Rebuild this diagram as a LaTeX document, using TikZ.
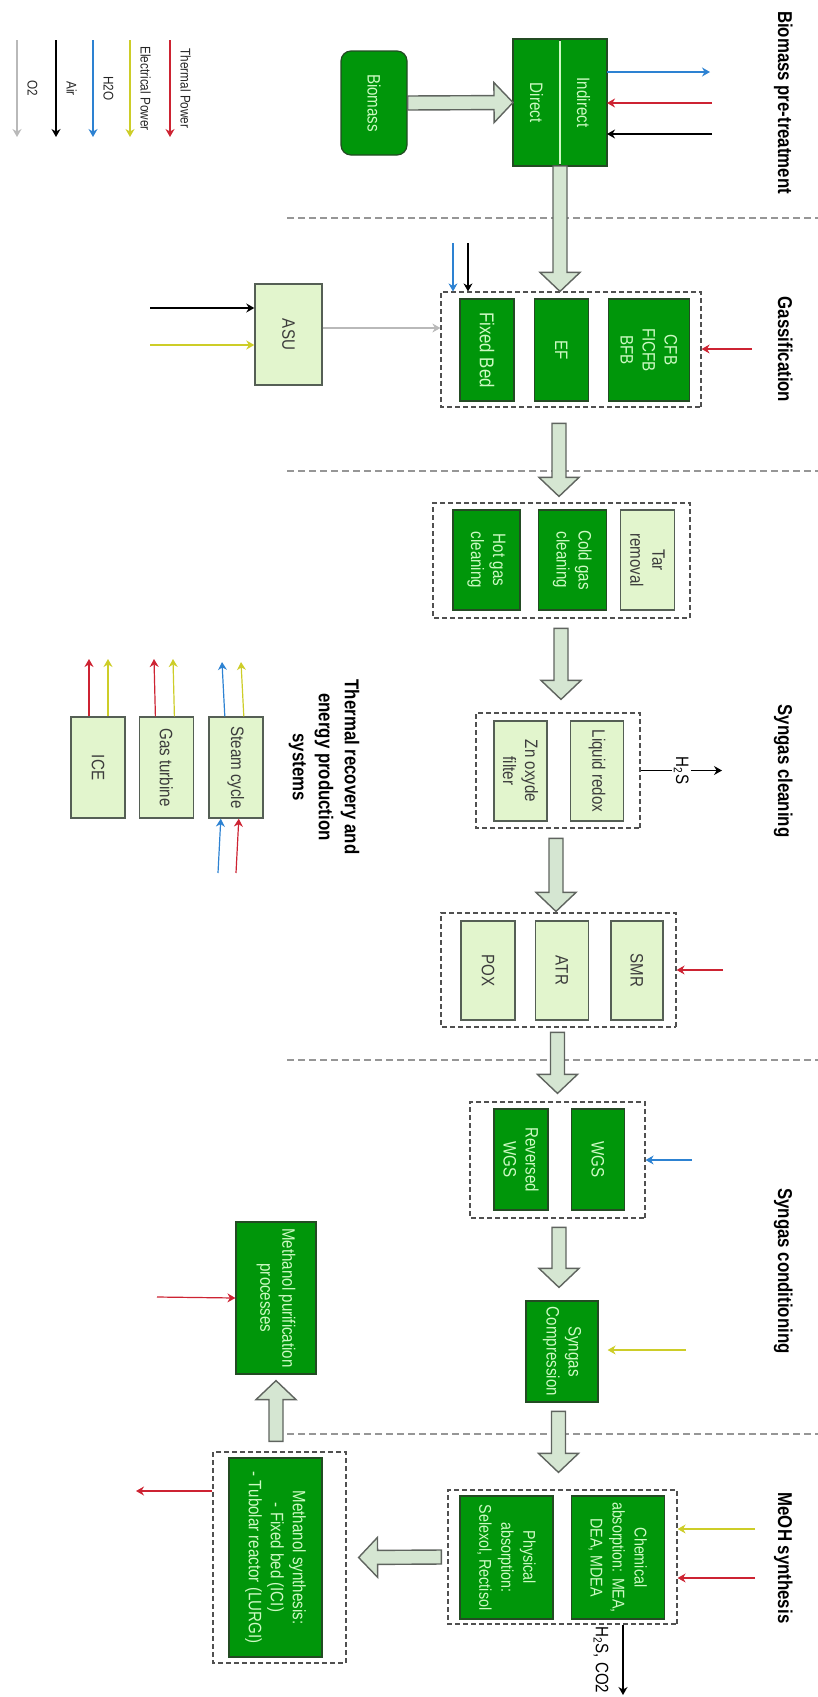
\documentclass[tikz,border=0pt]{standalone}
\usepackage{fontspec}
\setmainfont{Liberation Sans}[FakeStretch=0.84]
\usetikzlibrary{positioning,arrows.meta,calc}
\definecolor{procgreen}{RGB}{0,150,10}
\definecolor{procedge}{RGB}{35,75,35}
\definecolor{proctext}{RGB}{205,250,195}
\definecolor{auxgreen}{RGB}{226,245,205}
\definecolor{auxedge}{RGB}{85,95,85}
\definecolor{auxtext}{RGB}{60,60,60}
\definecolor{fatfill}{RGB}{213,230,210}
\definecolor{fatedge}{RGB}{95,100,95}
\definecolor{grpedge}{RGB}{80,80,80}
\definecolor{sepgray}{RGB}{150,150,150}
\definecolor{thermred}{RGB}{205,35,50}
\definecolor{elecyellow}{RGB}{205,205,40}
\definecolor{waterblue}{RGB}{45,130,210}
\definecolor{oxygray}{RGB}{185,185,185}
\newcommand{\fatarrow}[2]{%
  \draw[fatshape] ($(#1)!3.5pt!90:(#2)$)
    -- ($($(#2)!9.5pt!(#1)$)!3.5pt!90:(#2)$)
    -- ($($(#2)!9.5pt!(#1)$)!10pt!90:(#2)$)
    -- (#2)
    -- ($($(#2)!9.5pt!(#1)$)!10pt!-90:(#2)$)
    -- ($($(#2)!9.5pt!(#1)$)!3.5pt!-90:(#2)$)
    -- ($(#1)!3.5pt!-90:(#2)$) -- cycle;}

\begin{document}
\begin{tikzpicture}[
  x=0.5pt, y=0.5pt, rotate=-90, transform shape,
  node distance=9.5pt,
  every node/.style={font=\fontsize{9}{11}\selectfont, align=center, inner sep=2pt},
  proc/.style={draw=procedge, fill=procgreen, text=proctext, line width=0.6pt},
  aux/.style={draw=auxedge, fill=auxgreen, text=auxtext, line width=0.7pt},
  grp/.style={draw=grpedge, dash pattern=on 2.5pt off 1.5pt, line width=0.6pt},
  header/.style={font=\fontsize{10}{13}\selectfont\bfseries, anchor=base},
  legendtxt/.style={font=\fontsize{7}{8.5}\selectfont, inner sep=1pt, text=black!85},
  sepline/.style={draw=sepgray, dash pattern=on 3.5pt off 2pt, line width=0.6pt},
  divider/.style={draw=proctext, line width=1pt},
  fatshape/.style={draw=fatedge, fill=fatfill, line width=0.7pt, line join=miter},
  flow/.style={-{Stealth[length=4pt,width=4.5pt]}, line width=0.6pt},
  redflow/.style={flow, color=thermred},
  yellowflow/.style={flow, color=elecyellow},
  blueflow/.style={flow, color=waterblue},
  blackflow/.style={flow, color=black},
  grayflow/.style={flow, color=oxygray}
]
\useasboundingbox (0,0) rectangle (1697,818);

\draw[sepline] (218,287) -- (218,818);
\draw[sepline] (471,287) -- (471,818);
\draw[sepline] (1060,287) -- (1060,818);
\draw[sepline] (1434,287) -- (1434,818);

\node[header] (hpre) at (102.5,778) {Biomass pre-treatment};
\node[header] (hgas) at (349.5,778) {Gassification};
\node[header] (hcln) at (771,778) {Syngas cleaning};
\node[header] (hcond) at (1271,778) {Syngas conditioning};
\node[header] (hmeoh) at (1558,778) {MeOH synthesis};
\node[font=\fontsize{10}{13}\selectfont\bfseries] (hthermal) at (767,324) {Thermal recovery and\\energy production\\systems};

\coordinate (lgo2a) at (40,17); \coordinate (lgo2b) at (137,17);
\coordinate (lgaira) at (40,56); \coordinate (lgairb) at (137,56);
\coordinate (lgh2oa) at (40,93); \coordinate (lgh2ob) at (137,93);
\coordinate (lgeleca) at (40,130); \coordinate (lgelecb) at (137,130);
\coordinate (lgheata) at (40,170); \coordinate (lgheatb) at (137,170);
\draw[grayflow] (lgo2a) -- node[above=4pt, legendtxt] {O2} (lgo2b);
\draw[blackflow] (lgaira) -- node[above=4pt, legendtxt] {Air} (lgairb);
\draw[blueflow] (lgh2oa) -- node[above=4pt, legendtxt] {H2O} (lgh2ob);
\draw[yellowflow] (lgeleca) -- node[above=4pt, legendtxt] {Electrical Power} (lgelecb);
\draw[redflow] (lgheata) -- node[above=4pt, legendtxt] {Thermal Power} (lgheatb);

\node[proc, rounded corners=5pt, minimum width=52pt, minimum height=33pt] (biomass) at (103,374) {Biomass};
\node[proc, outer sep=0pt, minimum width=63.5pt, minimum height=23.5pt] (indirect) at (102.5,583.5) {Indirect};
\node[proc, outer sep=0pt, minimum width=63.5pt, minimum height=23.5pt, below=0pt of indirect] (direct) {Direct};
\draw[divider] ($(indirect.south west)+(2,0)$) -- ($(indirect.south east)+(-2,0)$);
\coordinate (ptout) at (72,710);
\coordinate (ptheat) at (103,712);
\coordinate (ptair) at (134,712);
\draw[blueflow] ($(indirect.north)+(-30.5,0)$) -- (ptout);
\draw[redflow] (ptheat) -- ($(indirect.north)+(0.5,0)$);
\draw[blackflow] (ptair) -- ($(indirect.north)+(31.5,0)$);

\node[grp, minimum width=57.5pt, minimum height=130pt] (gasgrp) at (349.5,571) {};
\node[proc, minimum width=51pt, minimum height=27pt, font=\fontsize{10}{12}\selectfont] (fixedbed) at (350,487) {Fixed Bed};
\node[proc, minimum width=51pt, minimum height=27pt, above=of fixedbed] (ef) {EF};
\node[proc, minimum width=51pt, minimum height=40.5pt, above=of ef] (cfb) {CFB\\FICFB\\BFB};
\node[aux, minimum width=50.5pt, minimum height=33.5pt] (asu) at (334.5,288.5) {ASU};
\coordinate (asuair) at (308,150);
\coordinate (asuelec) at (345,150);
\draw[blackflow] (asuair) -- ($(asu.south)+(-26.5,0)$);
\draw[yellowflow] (asuelec) -- ($(asu.south)+(10.5,0)$);
\draw[grayflow] ($(asu.north)+(-6.5,0)$) -- ($(gasgrp.south)+(-21.5,0)$);
\coordinate (gaswater) at (243,453);
\coordinate (gasair) at (243,468);
\coordinate (gasheat) at (349,752);
\draw[blueflow] (gaswater) -- ($(gasgrp.west)+(0,-118)$);
\draw[blackflow] (gasair) -- ($(gasgrp.west)+(0,-103)$);
\draw[redflow] (gasheat) -- ($(gasgrp.north)+(-0.5,0)$);

\node[grp, minimum width=57.5pt, minimum height=128.5pt] (cln1) at (560.5,561.5) {};
\node[proc, minimum width=50pt, minimum height=33.5pt] (hotgas) at (560,486.5) {Hot gas\\cleaning};
\node[proc, minimum width=50pt, minimum height=34pt, above=8.5pt of hotgas] (coldgas) {Cold gas\\cleaning};
\node[aux, minimum width=50pt, minimum height=27pt, above=6.5pt of coldgas] (tar) {Tar\\removal};

\node[grp, minimum width=57.5pt, minimum height=82pt] (cln2) at (770.5,558) {};
\node[aux, minimum width=50pt, minimum height=26.5pt] (znox) at (771,520.5) {Zn oxyde\\filter};
\node[aux, minimum width=50pt, minimum height=26.5pt, above=11pt of znox] (liqredox) {Liquid redox};
\coordinate (h2sout) at (770.5,722);
\draw[blackflow] (cln2.north) -- node[fill=white, inner sep=1pt] {H\textsubscript{2}S} (h2sout);

\node[grp, minimum width=57pt, minimum height=117.5pt] (reform) at (970,558.5) {};
\node[aux, minimum width=49.5pt, minimum height=27pt] (pox) at (970.5,488) {POX};
\node[aux, minimum width=49.5pt, minimum height=26.5pt, above=of pox] (atr) {ATR};
\node[aux, minimum width=49.5pt, minimum height=26pt, above=10.5pt of atr] (smr) {SMR};
\coordinate (refheat) at (970,723);
\draw[redflow] (refheat) -- (reform.north);

\node[grp, minimum width=58pt, minimum height=87.5pt] (shiftgrp) at (1160,557.5) {};
\node[proc, minimum width=50.5pt, minimum height=27pt] (rwgs) at (1159.5,521) {Reversed\\WGS};
\node[proc, minimum width=50.5pt, minimum height=26.5pt, above=11pt of rwgs] (wgs) {WGS};
\coordinate (shiftwater) at (1160,692);
\draw[blueflow] (shiftwater) -- (shiftgrp.north);

\node[proc, minimum width=50.5pt, minimum height=36pt] (comp) at (1351.5,562) {Syngas\\Compression};
\coordinate (compelec) at (1350,686);
\draw[yellowflow, shorten >=4.5pt] (compelec) -- ($(comp.north)+(-1.5,0)$);

\node[grp, minimum width=67pt, minimum height=114.5pt] (absorb) at (1557,562.5) {};
\node[proc, minimum width=61.5pt, minimum height=46.5pt, font=\fontsize{8.5}{11}\selectfont] (phys) at (1557.5,506.5) {Physical\\absorption:\\Selexol, Rectisol};
\node[proc, minimum width=61.5pt, minimum height=46.5pt, font=\fontsize{8.5}{11}\selectfont, above=8.5pt of phys] (chem) {Chemical\\absorption: MEA,\\DEA, MDEA};
\coordinate (abselec) at (1529,755);
\coordinate (absheat) at (1578,755);
\coordinate (acidout) at (1695,623);
\draw[yellowflow] (abselec) -- ($(absorb.north)+(-28,0)$);
\draw[redflow] (absheat) -- ($(absorb.north)+(21,0)$);
\draw[blackflow] ($(absorb.east)+(0,60.5)$) -- node[below=5pt] {H\textsubscript{2}S, CO2} (acidout);

\node[grp, minimum width=105.5pt, minimum height=66.5pt] (synthgrp) at (1557.5,279.5) {};
\node[proc, minimum width=99.5pt, minimum height=46.5pt] (synth) at (1557.5,275.5) {Methanol synthesis:\\- Fixed bed (ICI)\\- Tubolar reactor (LURGI)};
\coordinate (synthheat) at (1491,136);
\draw[redflow] ($(synthgrp.south)+(-66.5,0)$) -- (synthheat);
\node[proc, minimum width=76pt, minimum height=40pt] (purif) at (1298,276) {Methanol purification\\processes};
\coordinate (purifheat) at (1297,157);
\draw[redflow] (purifheat) -- (purif.south);

\node[aux, minimum width=50.5pt, minimum height=27pt] (ice) at (767.5,98) {ICE};
\node[aux, minimum width=50.5pt, minimum height=27pt, above=6.5pt of ice] (gasturb) {Gas turbine};
\node[aux, minimum width=50.5pt, minimum height=27pt, above=7pt of gasturb] (steam) {Steam cycle};
\coordinate (iceheat) at (659,89); \coordinate (iceelec) at (659,108);
\coordinate (gtheat) at (659,154); \coordinate (gtelec) at (659,173);
\coordinate (stwaterout) at (662,222); \coordinate (stelec) at (662,241);
\coordinate (stwaterin) at (873,218); \coordinate (stheat) at (873,236);
\draw[redflow] ($(ice.west)+(0,-9)$) -- (iceheat);
\draw[yellowflow] ($(ice.west)+(0,10)$) -- (iceelec);
\draw[redflow] ($(gasturb.west)+(0,-11)$) -- (gtheat);
\draw[yellowflow] ($(gasturb.west)+(0,8)$) -- (gtelec);
\draw[blueflow] ($(steam.west)+(0,-11)$) -- (stwaterout);
\draw[yellowflow] ($(steam.west)+(0,8)$) -- (stelec);
\draw[blueflow] (stwaterin) -- ($(steam.east)+(0,-15)$);
\draw[redflow] (stheat) -- ($(steam.east)+(0,3)$);

\coordinate (a2s) at (direct.north east);
\coordinate (a2t) at ($(gasgrp.west)+(0,-11)$);
\coordinate (a3s) at ($(cln1.west)+(-79,-2.5)$);
\coordinate (a3t) at ($(cln1.west)+(-6,-2.5)$);
\coordinate (a4s) at ($(cln2.west)+(-84,3)$);
\coordinate (a4t) at ($(cln2.west)+(-13,3)$);
\coordinate (a5s) at ($(reform.west)+(-74,-2.5)$);
\coordinate (a5t) at ($(reform.west)+(-1,-2.5)$);
\coordinate (a6s) at ($(shiftgrp.west)+(-69,0)$);
\coordinate (a6t) at ($(shiftgrp.west)+(-8,0)$);
\coordinate (a7s) at ($(comp.west)+(-73,-3)$);
\coordinate (a7t) at ($(comp.west)+(-13,-3)$);
\coordinate (a8s) at ($(absorb.west)+(-78,-4)$);
\coordinate (a8t) at ($(absorb.west)+(-17,-4)$);
\coordinate (a9s) at ($(absorb.south)+(0,-6)$);
\coordinate (a9t) at ($(synthgrp.north)+(0,12)$);
\coordinate (a10s) at ($(synthgrp.west)+(-10,-3.5)$);
\coordinate (a10t) at ($(purif.east)+(6,0)$);
\fatarrow{biomass.north}{direct.south}
\fatarrow{a2s}{a2t}
\fatarrow{a3s}{a3t}
\fatarrow{a4s}{a4t}
\fatarrow{a5s}{a5t}
\fatarrow{a6s}{a6t}
\fatarrow{a7s}{a7t}
\fatarrow{a8s}{a8t}
\fatarrow{a9s}{a9t}
\fatarrow{a10s}{a10t}
\end{tikzpicture}
\end{document}
